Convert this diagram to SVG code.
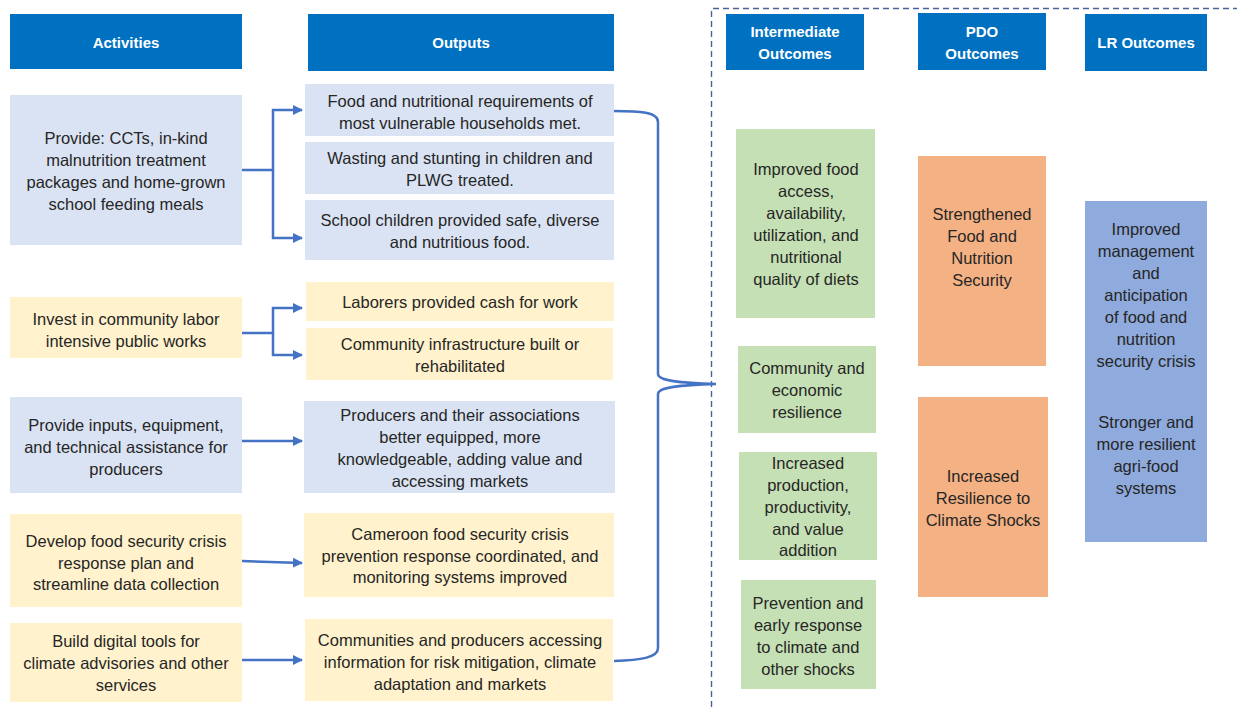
<svg xmlns="http://www.w3.org/2000/svg" width="1237" height="707" viewBox="0 0 1237 707">
<style>
.hdr{fill:#0070C0}
.ht{font-family:"Liberation Sans",Arial,sans-serif;font-weight:bold;font-size:15px;fill:#fff;text-anchor:middle}
.t{font-family:"Liberation Sans",Arial,sans-serif;font-size:16.5px;fill:#262626;text-anchor:middle}
.bl{fill:#DAE3F3}
.yl{fill:#FFF2CC}
.gr{fill:#C5E0B4}
.or{fill:#F4B183}
.lb{fill:#8FAADC}
.c{fill:none;stroke:#4472C4;stroke-width:2.5}
</style>
<defs>
<marker id="ah" viewBox="0 0 10 10" refX="9" refY="5" markerWidth="4" markerHeight="4" orient="auto" markerUnits="strokeWidth">
<path d="M0,0 L10,5 L0,10 z" fill="#4472C4"/>
</marker>
</defs>
<rect width="1237" height="707" fill="#fff"/>

<g id="dashed-frame">
<path d="M711.5,707 V8.5 H1237" fill="none" stroke="#4A6294" stroke-width="1.4" stroke-dasharray="6,4"/>
</g>

<g id="h-activities"><rect class="hdr" x="10" y="14" width="232" height="55"/><text class="ht" x="126" y="48">Activities</text></g>
<g id="h-outputs"><rect class="hdr" x="308" y="14" width="306" height="57"/><text class="ht" x="461" y="48">Outputs</text></g>
<g id="h-intermediate"><rect class="hdr" x="726" y="14" width="138" height="56"/><text class="ht" x="795" y="37">Intermediate</text><text class="ht" x="795" y="59">Outcomes</text></g>
<g id="h-pdo"><rect class="hdr" x="918" y="13" width="128" height="57"/><text class="ht" x="982" y="37">PDO</text><text class="ht" x="982" y="59">Outcomes</text></g>
<g id="h-lr"><rect class="hdr" x="1085" y="14" width="122" height="57"/><text class="ht" x="1146" y="48">LR Outcomes</text></g>

<g id="a1"><rect class="bl" x="10" y="95" width="232" height="150"/>
<text class="t" x="126" y="144">Provide: CCTs, in-kind</text><text class="t" x="126" y="166">malnutrition treatment</text><text class="t" x="126" y="188">packages and home-grown</text><text class="t" x="126" y="210">school feeding meals</text></g>
<g id="a2"><rect class="yl" x="10" y="297" width="232" height="61"/>
<text class="t" x="126" y="325">Invest in community labor</text><text class="t" x="126" y="347">intensive public works</text></g>
<g id="a3"><rect class="bl" x="10" y="397" width="232" height="96"/>
<text class="t" x="126" y="431">Provide inputs, equipment,</text><text class="t" x="126" y="453">and technical assistance for</text><text class="t" x="126" y="475">producers</text></g>
<g id="a4"><rect class="yl" x="10" y="514" width="232" height="93"/>
<text class="t" x="126" y="547">Develop food security crisis</text><text class="t" x="126" y="569">response plan and</text><text class="t" x="126" y="590">streamline data collection</text></g>
<g id="a5"><rect class="yl" x="10" y="623" width="232" height="79"/>
<text class="t" x="126" y="647">Build digital tools for</text><text class="t" x="126" y="669">climate advisories and other</text><text class="t" x="126" y="691">services</text></g>

<g id="o1"><rect class="bl" x="305" y="84" width="309" height="52"/>
<text class="t" x="460" y="107">Food and nutritional requirements of</text><text class="t" x="460" y="129">most vulnerable households met.</text></g>
<g id="o2"><rect class="bl" x="305" y="142" width="309" height="52"/>
<text class="t" x="460" y="164">Wasting and stunting in children and</text><text class="t" x="460" y="186">PLWG treated.</text></g>
<g id="o3"><rect class="bl" x="305" y="200" width="309" height="60"/>
<text class="t" x="460" y="226">School children provided safe, diverse</text><text class="t" x="460" y="248">and nutritious food.</text></g>
<g id="o4"><rect class="yl" x="306" y="282" width="308" height="39"/>
<text class="t" x="460" y="308">Laborers provided cash for work</text></g>
<g id="o5"><rect class="yl" x="306" y="328" width="307" height="52"/>
<text class="t" x="460" y="350">Community infrastructure built or</text><text class="t" x="460" y="372">rehabilitated</text></g>
<g id="o6"><rect class="bl" x="304" y="401" width="311" height="92"/>
<text class="t" x="460" y="421">Producers and their associations</text><text class="t" x="460" y="443">better equipped, more</text><text class="t" x="460" y="465">knowledgeable, adding value and</text><text class="t" x="460" y="487">accessing markets</text></g>
<g id="o7"><rect class="yl" x="304" y="513" width="310" height="84"/>
<text class="t" x="460" y="540">Cameroon food security crisis</text><text class="t" x="460" y="562">prevention response coordinated, and</text><text class="t" x="460" y="583">monitoring systems improved</text></g>
<g id="o8"><rect class="yl" x="305" y="619" width="308" height="82"/>
<text class="t" x="460" y="646">Communities and producers accessing</text><text class="t" x="460" y="668">information for risk mitigation, climate</text><text class="t" x="460" y="690">adaptation and markets</text></g>

<g id="i1"><rect class="gr" x="736" y="129" width="139" height="189"/>
<text class="t" x="806" y="175">Improved food</text><text class="t" x="806" y="197">access,</text><text class="t" x="806" y="219">availability,</text><text class="t" x="806" y="241">utilization, and</text><text class="t" x="806" y="263">nutritional</text><text class="t" x="806" y="285">quality of diets</text></g>
<g id="i2"><rect class="gr" x="738" y="346" width="138" height="87"/>
<text class="t" x="807" y="374">Community and</text><text class="t" x="807" y="396">economic</text><text class="t" x="807" y="418">resilience</text></g>
<g id="i3"><rect class="gr" x="739" y="452" width="138" height="108"/>
<text class="t" x="808" y="469">Increased</text><text class="t" x="808" y="491">production,</text><text class="t" x="808" y="513">productivity,</text><text class="t" x="808" y="535">and value</text><text class="t" x="808" y="556">addition</text></g>
<g id="i4"><rect class="gr" x="741" y="580" width="135" height="109"/>
<text class="t" x="808" y="609">Prevention and</text><text class="t" x="808" y="631">early response</text><text class="t" x="808" y="653">to climate and</text><text class="t" x="808" y="675">other shocks</text></g>

<g id="p1"><rect class="or" x="918" y="156" width="128" height="210"/>
<text class="t" x="982" y="220">Strengthened</text><text class="t" x="982" y="242">Food and</text><text class="t" x="982" y="264">Nutrition</text><text class="t" x="982" y="286">Security</text></g>
<g id="p2"><rect class="or" x="918" y="397" width="130" height="200"/>
<text class="t" x="983" y="482">Increased</text><text class="t" x="983" y="504">Resilience to</text><text class="t" x="983" y="526">Climate Shocks</text></g>

<g id="lr1"><rect class="lb" x="1085" y="201" width="122" height="341"/>
<text class="t" x="1146" y="235">Improved</text><text class="t" x="1146" y="257">management</text><text class="t" x="1146" y="279">and</text><text class="t" x="1146" y="301">anticipation</text><text class="t" x="1146" y="323">of food and</text><text class="t" x="1146" y="345">nutrition</text><text class="t" x="1146" y="367">security crisis</text>
<text class="t" x="1146" y="428">Stronger and</text><text class="t" x="1146" y="450">more resilient</text><text class="t" x="1146" y="472">agri-food</text><text class="t" x="1146" y="494">systems</text></g>

<g id="connectors">
<path class="c" d="M242,170 H273 V110 H302" marker-end="url(#ah)"/>
<path class="c" d="M273,170 V238 H302" marker-end="url(#ah)"/>
<path class="c" d="M242,333 H273 V308 H302" marker-end="url(#ah)"/>
<path class="c" d="M273,333 V355 H302" marker-end="url(#ah)"/>
<path class="c" d="M242,441 H302" marker-end="url(#ah)"/>
<path class="c" d="M242,561 L302,563" marker-end="url(#ah)"/>
<path class="c" d="M242,660 H302" marker-end="url(#ah)"/>
<path class="c" d="M614,111 C640,111 658,112 658,122 V374 C658,381 680,383 716,384 C680,385 658,387 658,394 V648 C658,658 640,660 614,661"/>
</g>
</svg>
